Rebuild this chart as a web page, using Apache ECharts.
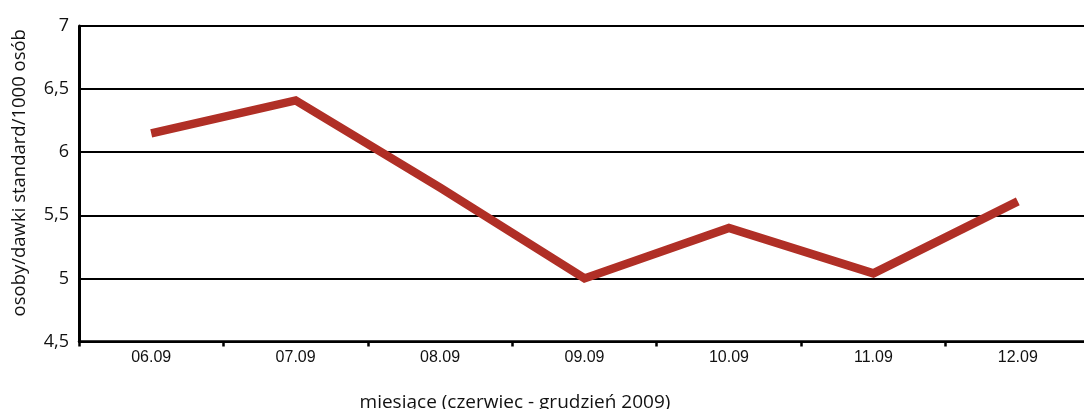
<!DOCTYPE html>
<html lang="pl">
<head>
<meta charset="UTF-8">
<title>osoby/dawki standard</title>
<style>
    html,body{margin:0;padding:0;background:#fff;}
    #main{width:1084px;height:409px;}
</style>
</head>
<body>
<div id="main"></div>
<script src="https://cdn.jsdelivr.net/npm/echarts@6/dist/echarts.min.js"></script>
<script>
    // miesiące czerwiec - grudzień 2009
    var months = ['06.09', '07.09', '08.09', '09.09', '10.09', '11.09', '12.09'];
    var values = [6.15, 6.41, 5.72, 5.0, 5.40, 5.04, 5.61];
    var yTicks = [4.5, 5, 5.5, 6, 6.5, 7];

    var chart = echarts.init(document.getElementById('main'));
    chart.setOption({
        animation: false,
        grid: {
            left: 79,
            top: 26,
            width: 1011,
            height: 315.5,
            outerBoundsMode: 'none'
        },
        xAxis: {
            type: 'category',
            data: months,
            boundaryGap: true,
            name: 'miesiące (czerwiec - grudzień 2009)',
            nameLocation: 'middle',
            nameGap: 52,
            nameTextStyle: {color: '#111', fontSize: 19, fontFamily: 'Open Sans', padding: [0, 139, 0, 0]},
            axisLine: {lineStyle: {color: '#000', width: 2.5}},
            axisTick: {show: true, alignWithLabel: false, length: 5, lineStyle: {color: '#000', width: 2.5}},
            axisLabel: {color: '#111', fontSize: 16, fontFamily: 'Liberation Sans', margin: 8}
        },
        yAxis: {
            type: 'value',
            min: yTicks[0],
            max: yTicks[yTicks.length - 1],
            interval: 0.5,
            name: 'osoby/dawki standard/1000 osób',
            nameLocation: 'middle',
            nameGap: 50,
            nameTextStyle: {color: '#111', fontSize: 18.5, fontFamily: 'Open Sans', padding: [0, 0, 0, 22]},
            axisLine: {show: true, lineStyle: {color: '#000', width: 3}},
            axisTick: {show: false},
            splitLine: {lineStyle: {color: '#000', width: 2}},
            axisLabel: {
                color: '#111', fontSize: 18, fontFamily: 'Open Sans', margin: 10,
                formatter: function (v) { return String(v).replace('.', ','); }
            }
        },
        series: [{
            type: 'line',
            data: values,
            symbol: 'none',
            lineStyle: {color: '#b02f26', width: 8.5, cap: 'butt', join: 'miter'}
        }]
    });
</script>
</body>
</html>
